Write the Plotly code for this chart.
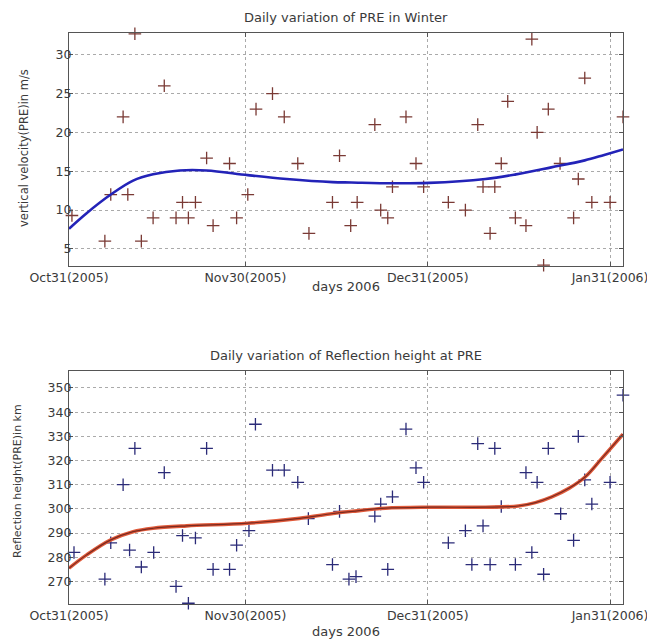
import plotly.graph_objects as go

# ---------------- data ----------------
tick_days = [0, 30, 61, 92]
tick_labels = ["Oct31(2005)", "Nov30(2005)", "Dec31(2005)", "Jan31(2006)"]

# Top panel: vertical velocity (m/s)
vel_days = [0.5, 6.1, 7.1, 9.2, 10.0, 11.2, 12.3, 14.3, 16.2, 18.2, 19.3, 20.3, 21.5,
            23.4, 24.5, 27.3, 28.5, 30.4, 31.8, 34.6, 36.6, 38.9, 40.8, 44.8, 46.0,
            47.9, 49.0, 52.0, 53.0, 54.2, 55.0, 57.3, 59.0, 60.3, 64.5, 67.4, 69.5,
            70.4, 71.6, 72.4, 73.5, 74.6, 75.9, 77.7, 78.7, 79.6, 80.7, 81.5, 83.5,
            85.8, 86.6, 87.7, 88.9, 92.0, 94.2]
vel_vals = [9.3, 6, 12, 22, 12, 32.7, 6, 9, 26, 9, 11, 9, 11,
            16.7, 8, 16, 9, 12, 23, 25, 22, 16, 7, 11, 17,
            8, 11, 21, 10, 9, 13, 22, 16, 13, 11, 10, 21,
            13, 7, 13, 16, 24, 9, 8, 32, 20, 2.9, 23, 16,
            9, 14, 27, 11, 11, 22]
vel_fit_days = [0, 3, 7.1, 10.9, 14.3, 18.8, 23.4, 30.4, 37, 44.8, 48, 55, 61.2,
                70.8, 76, 82, 87.7, 91, 94.2]
vel_fit_vals = [7.6, 9.6, 12.0, 13.8, 14.6, 15.1, 15.1, 14.5, 14.0, 13.6, 13.55, 13.45, 13.5,
                14.0, 14.6, 15.5, 16.4, 17.1, 17.8]

# Bottom panel: reflection height (km)
hgt_days = [0.85, 6.1, 7.1, 9.2, 10.3, 11.2, 12.3, 14.4, 16.2, 18.2, 19.3, 20.3, 21.5,
            23.4, 24.5, 27.3, 28.5, 30.6, 31.7, 34.6, 36.6, 38.9, 40.7, 44.8, 46.0,
            47.6, 48.8, 52.0, 53.0, 54.2, 55.0, 57.3, 59.0, 60.3, 64.5, 67.4, 68.5,
            69.5, 70.4, 71.6, 72.4, 73.5, 75.9, 77.7, 78.7, 79.6, 80.7, 81.5, 83.6,
            85.8, 86.6, 87.7, 88.9, 92.0, 94.2]
hgt_vals = [282, 271, 286, 310, 283, 325, 276, 282, 315, 268, 289, 261, 288,
            325, 275, 275, 285, 291, 335, 316, 316, 311, 296, 277, 299,
            271, 272, 297, 302, 275, 305, 333, 317, 311, 286, 291, 277,
            327, 293, 277, 325, 301, 277, 315, 282, 311, 273, 325, 298,
            287, 330, 312, 302, 311, 347]
hgt_fit_days = [0, 3, 7.1, 10.9, 14.3, 20, 30.4, 39.2, 44.3, 48.2, 53.8, 61.3, 70.8,
                76.4, 79.3, 82.1, 85, 87.8, 90.6, 94.2]
hgt_fit_vals = [275.5, 281, 287.2, 290.6, 292, 293, 294.1, 296.1, 297.9, 299, 300.3, 300.7, 300.7,
                301.2, 302.6, 305, 308.5, 313.3, 320.9, 330.9]

# ---------------- figure ----------------
# the page body adds an 8px offset, so the figure is sized/positioned to compensate
OFF = 8
FW, FH = 655 - OFF, 640 - OFF
ML, MR = 69 - OFF, 32

fig = go.Figure()

fig.add_trace(go.Scatter(x=vel_days, y=vel_vals, mode="markers", xaxis="x", yaxis="y",
                         marker=dict(symbol="cross-thin", size=9,
                                     line=dict(color="#7a3a35", width=1.3)),
                         cliponaxis=False, showlegend=False))
fig.add_trace(go.Scatter(x=vel_fit_days, y=vel_fit_vals, mode="lines", xaxis="x", yaxis="y",
                         line=dict(color="#2323b8", width=2.6, shape="spline"),
                         showlegend=False))

fig.add_trace(go.Scatter(x=hgt_days, y=hgt_vals, mode="markers", xaxis="x2", yaxis="y2",
                         marker=dict(symbol="cross-thin", size=9,
                                     line=dict(color="#2b2b78", width=1.3)),
                         cliponaxis=False, showlegend=False))
fig.add_trace(go.Scatter(x=hgt_fit_days, y=hgt_fit_vals, mode="lines", xaxis="x2", yaxis="y2",
                         line=dict(color="#e05a3a", width=3.6, shape="spline"),
                         showlegend=False))
fig.add_trace(go.Scatter(x=hgt_fit_days, y=hgt_fit_vals, mode="lines", xaxis="x2", yaxis="y2",
                         line=dict(color="#7a2a20", width=1.2, shape="spline"),
                         showlegend=False))

font = dict(family="DejaVu Sans, sans-serif", size=13, color="#3a3a3a")
tfont = dict(family="DejaVu Sans, sans-serif", size=12.5, color="#3a3a3a")
yfont = dict(family="DejaVu Sans, sans-serif", size=11.5, color="#3a3a3a")
yfont2 = dict(family="DejaVu Sans, sans-serif", size=11, color="#3a3a3a")

axis_common = dict(showline=True, linecolor="#555555", linewidth=1.2, mirror="ticks",
                   ticks="inside", ticklen=4, tickcolor="#555555",
                   showgrid=True, gridcolor="#aaaaaa", griddash="dot", gridwidth=1,
                   zeroline=False, tickfont=tfont)


def ydom(top_px, bot_px):
    return [1 - (bot_px - OFF) / FH, 1 - (top_px - OFF) / FH]


fig.update_layout(
    width=FW, height=FH,
    margin=dict(l=ML, r=MR, t=0, b=0),
    plot_bgcolor="white", paper_bgcolor="white",
    font=font,
    xaxis=dict(domain=[0, 1], anchor="y", range=[0, 94.2], tickvals=tick_days,
               ticktext=tick_labels, **axis_common),
    yaxis=dict(domain=ydom(33, 266), anchor="x", range=[2.8, 32.8],
               tickvals=[5, 10, 15, 20, 25, 30], ticklabelstandoff=-6, **axis_common),
    xaxis2=dict(domain=[0, 1], anchor="y2", range=[0, 94.2], tickvals=tick_days,
                ticktext=tick_labels, **axis_common),
    yaxis2=dict(domain=ydom(371, 604), anchor="x2", range=[260.7, 357],
                tickvals=[270, 280, 290, 300, 310, 320, 330, 340, 350], ticklabelstandoff=-6,
                **axis_common),
)

# annotations given in reference-pixel positions, converted to paper fractions
PW = FW - ML - MR
ann_specs = [
    ("Daily variation of PRE in Winter", 346, 18, 0, font),
    ("days 2006", 346, 286, 0, font),
    ("vertical velocity(PRE)in m/s", 24, 148, -90, yfont),
    ("Daily variation of Reflection height at PRE", 346, 355, 0, font),
    ("days 2006", 346, 631, 0, font),
    ("Reflection height(PRE)in km", 17, 481, -90, yfont2),
]
fig.update_layout(annotations=[
    dict(text=t, x=(px - OFF - ML) / PW, y=1 - (py - OFF) / FH, xref="paper", yref="paper",
         xanchor="center", yanchor="middle", textangle=ang, showarrow=False, font=f)
    for t, px, py, ang, f in ann_specs
])

fig.write_html("out.html")
